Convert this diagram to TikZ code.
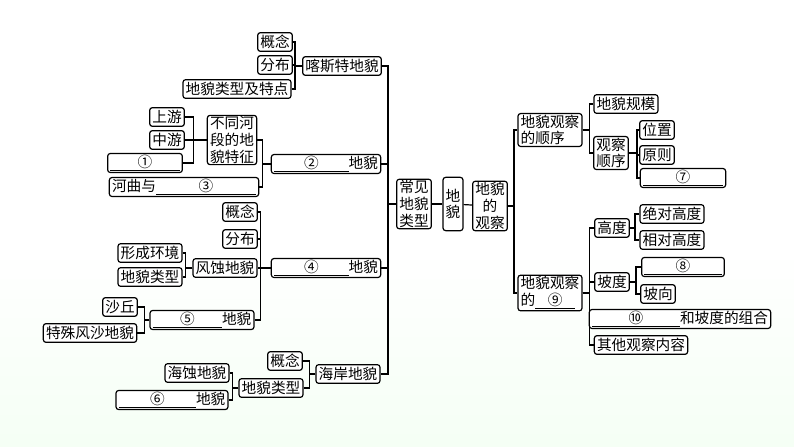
\documentclass[tikz,border=0pt]{standalone}
\usepackage{fontspec}
\setmainfont{Noto Sans CJK SC}
\newcommand{\blk}[2]{\underline{\makebox[#1]{#2}}}
\begin{document}
\begin{tikzpicture}[x=0.75pt,y=-0.75pt,
  box/.style={draw,line width=0.9pt,rounded corners=2pt,fill=white,inner xsep=2pt,inner ysep=1pt,minimum height=14pt,font=\fontsize{11}{12.5}\selectfont,align=center},
  ln/.style={line width=0.9pt}]
\useasboundingbox[fill=white] (0,0) rectangle (794,447);
\shade[top color=white,bottom color=green!4] (0,250) rectangle (794,447);
% left top
\node[box] (a1) at (275,42) {概念};
\node[box] (a2) at (275,65) {分布};
\node[box] (a3) at (237,89) {地貌类型及特点};
\node[box] (ks) at (342,66) {喀斯特地貌};
\node[box] (b1) at (167,117) {上游};
\node[box] (b2) at (167,140) {中游};
\node[box] (b3) at (145,163) {\blk{52pt}{①}};
\node[box,align=left] (bt) at (232,140) {不同河\\段的地\\貌特征};
\node[box] (b4) at (184,187) {河曲与\blk{75pt}{③}};
\node[box] (r2) at (326,164) {\blk{56pt}{②}地貌};
\node[box] (c1) at (240,212) {概念};
\node[box] (c2) at (240,239) {分布};
\node[box] (c3) at (150,253) {形成环境};
\node[box] (c4) at (150,277) {地貌类型};
\node[box] (fs) at (225,268) {风蚀地貌};
\node[box] (d1) at (120,307) {沙丘};
\node[box] (d2) at (90,333) {特殊风沙地貌};
\node[box] (r5) at (202,320) {\blk{52pt}{⑤}地貌};
\node[box] (r4) at (326,268) {\blk{56pt}{④}地貌};
\node[box] (e1) at (285,361) {概念};
\node[box] (e2) at (197,373) {海蚀地貌};
\node[box] (e3) at (172,400) {\blk{58pt}{⑥}地貌};
\node[box] (e4) at (271,388) {地貌类型};
\node[box] (ha) at (348,374) {海岸地貌};
% center
\node[box] (cj) at (414,204) {常见\\地貌\\类型};
\node[box,minimum height=40pt] (dm) at (453,204) {地\\貌};
\node[box] (gc) at (490,206) {地貌\\的\\观察};
% right
\node[box,align=left] (sx) at (550,130) {地貌观察\\的顺序};
\node[box,align=left] (n9) at (550,293) {地貌观察\\的\blk{30pt}{⑨}};
\node[box] (gm) at (626,104) {地貌规模};
\node[box] (gx) at (611,153) {观察\\顺序};
\node[box] (wz) at (657,130) {位置};
\node[box] (yz) at (657,155) {原则};
\node[box] (n7) at (683,178) {\blk{60pt}{⑦}};
\node[box] (gd) at (612,228) {高度};
\node[box] (jd) at (672,214) {绝对高度};
\node[box] (xd) at (672,240) {相对高度};
\node[box] (pd) at (612,282) {坡度};
\node[box] (n8) at (683,267) {\blk{58pt}{⑧}};
\node[box] (px) at (658,294) {坡向};
\node[box] (n10) at (680,319) {\blk{66pt}{⑩}和坡度的组合};
\node[box] (qt) at (641,345) {其他观察内容};
% left connectors
\foreach \c in {a1,a2,a3} \draw[ln] (ks.west) -- ++(-7,0) |- (\c.east);
\foreach \c in {b1,b2,b3} \draw[ln] (bt.west) -- ++(-13,0) |- (\c.east);
\foreach \c in {bt,b4} \draw[ln] (r2.west) -- ++(-8,0) |- (\c.east);
\foreach \c in {c3,c4} \draw[ln] (fs.west) -- ++(-7,0) |- (\c.east);
\foreach \c in {d1,d2} \draw[ln] (r5.west) -- ++(-5,0) |- (\c.east);
\foreach \c in {c1,c2,fs,r5} \draw[ln] (r4.west) -- ++(-10,0) |- (\c.east);
\foreach \c in {e2,e3} \draw[ln] (e4.west) -- ++(-6,0) |- (\c.east);
\foreach \c in {e1,e4} \draw[ln] (ha.west) -- ++(-6,0) |- (\c.east);
\foreach \c in {ks,r2,r4,ha} \draw[ln] (cj.west) -- ++(-8,0) |- (\c.east);
\draw[ln] (cj) -- (dm);
\draw[ln] (dm) -- (gc);
% right connectors
\foreach \c in {sx,n9} \draw[ln] (gc.east) -- ++(6,0) |- (\c.west);
\foreach \c in {gm,gx} \draw[ln] (sx.east) -- ++(7,0) |- (\c.west);
\foreach \c in {wz,yz,n7} \draw[ln] (gx.east) -- ++(8,0) |- (\c.west);
\foreach \c in {gd,pd,n10,qt} \draw[ln] (n9.east) -- ++(7,0) |- (\c.west);
\foreach \c in {jd,xd} \draw[ln] (gd.east) -- ++(5,0) |- (\c.west);
\foreach \c in {n8,px} \draw[ln] (pd.east) -- ++(6,0) |- (\c.west);
\end{tikzpicture}
\end{document}
